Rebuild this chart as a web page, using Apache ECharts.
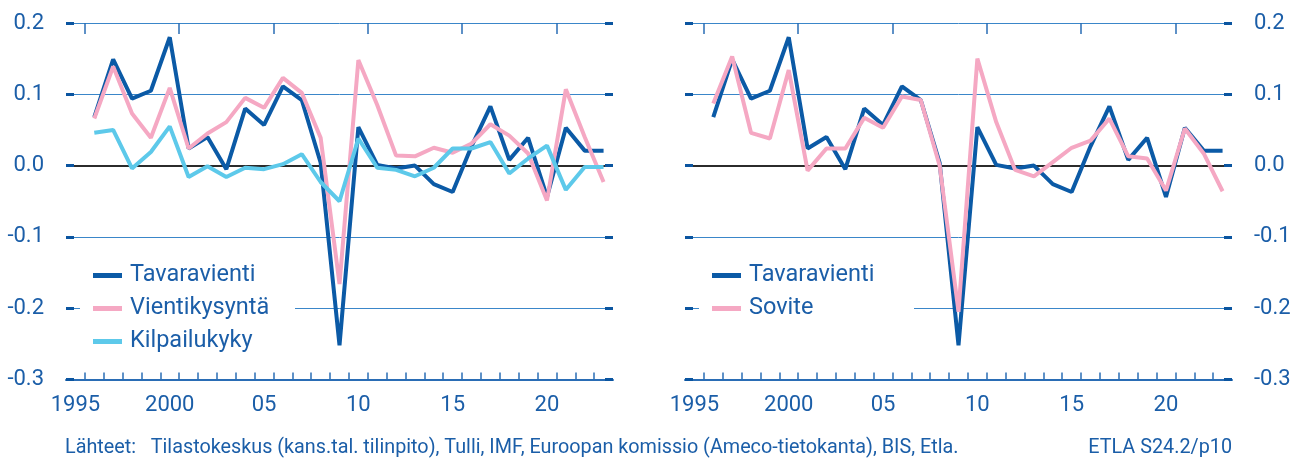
<!DOCTYPE html>
<html>
<head>
<meta charset="utf-8">
<script src="https://cdn.jsdelivr.net/npm/echarts@6/dist/echarts.min.js"></script>
<style>
  html, body { margin: 0; padding: 0; background: #fff; }
  #chart { width: 1304px; height: 461px; }
</style>
</head>
<body>
<div id="chart"></div>
<script>
// data (annual change)
const years = [1996, 1997, 1998, 1999, 2000, 2001, 2002, 2003, 2004, 2005, 2006, 2007, 2008, 2009,
  2010, 2011, 2012, 2013, 2014, 2015, 2016, 2017, 2018, 2019, 2020, 2021, 2022, 2023];
const tavaravienti = [0.068, 0.149, 0.094, 0.105, 0.180, 0.024, 0.040, -0.005, 0.080, 0.057, 0.111, 0.092, 0.004, -0.252,
  0.054, 0.001, -0.004, 0.000, -0.026, -0.037, 0.027, 0.083, 0.008, 0.039, -0.044, 0.053, 0.021, 0.021];
const vientikysynta = [0.066, 0.139, 0.073, 0.039, 0.109, 0.024, 0.045, 0.061, 0.095, 0.081, 0.123, 0.102, 0.039, -0.166,
  0.148, 0.085, 0.014, 0.013, 0.025, 0.018, 0.031, 0.058, 0.042, 0.017, -0.049, 0.107, 0.040, -0.023];
const kilpailukyky = [0.046, 0.050, -0.004, 0.019, 0.055, -0.016, -0.001, -0.016, -0.003, -0.005, 0.002, 0.016, -0.023, -0.050,
  0.038, -0.003, -0.006, -0.015, -0.003, 0.024, 0.024, 0.033, -0.011, 0.010, 0.028, -0.034, -0.002, -0.002];
const sovite = [0.087, 0.153, 0.046, 0.038, 0.134, -0.007, 0.024, 0.024, 0.067, 0.053, 0.097, 0.092, 0.000, -0.205,
  0.150, 0.061, -0.006, -0.015, 0.005, 0.025, 0.035, 0.066, 0.013, 0.010, -0.035, 0.052, 0.017, -0.036];

const xTickYears = [1995, 2000, 2005, 2010, 2015, 2020];
const xTickLabels = ["1995", "2000", "05", "10", "15", "20"];

const blue = "#0b5aa6";
const pink = "#f5a8c3";
const cyan = "#5dc9ea";
const textBlue = "#1b5ea8";
const gridBlue = "#3a86c9";
const tickBlue = "#0b55a0";
const none = "rgba(0,0,0,0)";
const font = "Roboto";

const pairs = (vals) => years.map((y, i) => [y, vals[i]]);
// ticks sit on year boundaries
const minorTicks = years.map((y) => y - 0.5);
const majorTicks = xTickYears.map((y) => y + 0.5);

const xAxes = (p) => [
  {
    type: "value", gridIndex: p, min: 1994.5, max: 2023.5,
    splitLine: { show: false },
    axisLine: { show: true, onZero: false, lineStyle: { color: "#2a6db5", width: 2 } },
    axisTick: { show: true, inside: true, length: 7, customValues: minorTicks, lineStyle: { color: "#2a6db5", width: 1.5 } },
    axisLabel: {
      customValues: xTickYears,
      formatter: (v) => xTickLabels[xTickYears.indexOf(v)],
      fontSize: 22, color: textBlue, margin: 15, fontFamily: font,
    },
  },
  {
    type: "value", gridIndex: p, min: 1994.5, max: 2023.5,
    splitLine: { show: false },
    axisLine: { show: false, onZero: false },
    axisTick: { show: true, inside: true, length: 11, customValues: majorTicks, lineStyle: { color: "#2a6db5", width: 1.5 } },
    axisLabel: { show: false },
  },
];

const yAxes = (p, labelSide) =>
  ["left", "right"].map((side) => ({
    type: "value", gridIndex: p, position: side,
    min: -0.3, max: 0.2, interval: 0.1,
    axisLine: { show: false },
    axisTick: { show: true, inside: true, length: 8, lineStyle: { color: tickBlue, width: 3 } },
    axisLabel: {
      show: side === labelSide,
      formatter: (v) => (Math.round(v * 10) / 10).toFixed(1),
      fontSize: 22, color: textBlue, margin: 22, fontFamily: font,
    },
    splitLine: side === "left"
      ? { show: true, lineStyle: { color: [none, gridBlue, gridBlue, none, gridBlue, gridBlue], width: 1 } }
      : { show: true, lineStyle: { color: [none, none, none, "#2b2b2b", none, none], width: 2 } },
  }));

const line = (name, vals, color, xi, yi) => ({
  name, type: "line", data: pairs(vals),
  xAxisIndex: xi, yAxisIndex: yi,
  symbol: "none", lineStyle: { color, width: 4 }, itemStyle: { color },
});

const legendBase = {
  orient: "vertical", top: 252, backgroundColor: "#fff",
  padding: [11, 5, 8, 13], itemWidth: 29, itemHeight: 5, itemGap: 8,
  icon: "rect", selectedMode: false,
  textStyle: { fontSize: 23.5, color: textBlue, fontFamily: font, lineHeight: 25, width: 160, padding: [0, 0, 0, 3] },
};

const footStyle = { fontSize: 19.8, fontWeight: "normal", color: textBlue, fontFamily: font };

const option = {
  animation: false,
  backgroundColor: "#fff",
  grid: [
    { left: 66, width: 547, top: 23, height: 356.5 },
    { left: 685, width: 547, top: 23, height: 356.5 },
  ],
  xAxis: [...xAxes(0), ...xAxes(1)],
  yAxis: [...yAxes(0, "left"), ...yAxes(1, "right")],
  legend: [
    { ...legendBase, left: 80, data: ["Tavaravienti", "Vientikysyntä", "Kilpailukyky"] },
    { ...legendBase, left: 699, data: ["Tavaravienti", "Sovite"] },
  ],
  title: [
    {
      text: "Lähteet:   Tilastokeskus (kans.tal. tilinpito), Tulli, IMF, Euroopan komissio (Ameco-tietokanta), BIS, Etla.",
      left: 65, top: 438, padding: 0, textStyle: footStyle,
    },
    { text: "ETLA S24.2/p10", right: 72, top: 438, padding: 0, textStyle: footStyle },
  ],
  series: [
    line("Tavaravienti", tavaravienti, blue, 0, 0),
    line("Vientikysyntä", vientikysynta, pink, 0, 0),
    line("Kilpailukyky", kilpailukyky, cyan, 0, 0),
    line("Tavaravienti", tavaravienti, blue, 2, 2),
    line("Sovite", sovite, pink, 2, 2),
  ],
};

const myChart = echarts.init(document.getElementById("chart"));
myChart.setOption(option);
</script>
</body>
</html>
